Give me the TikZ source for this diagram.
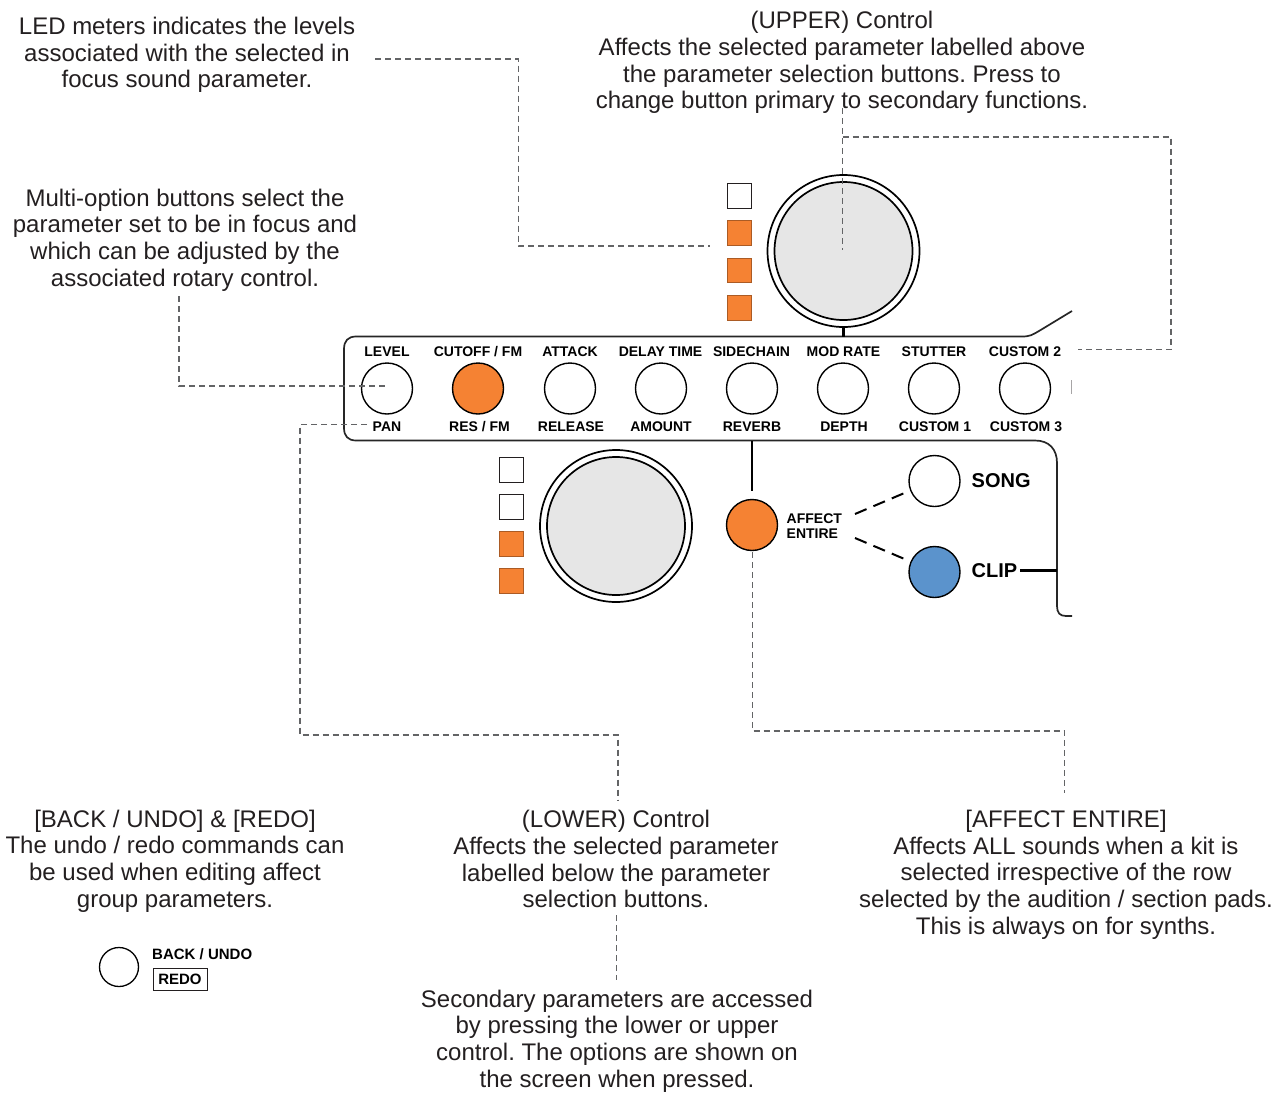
\documentclass[tikz,border=0pt]{standalone}
\usepackage{fontspec}
\setmainfont{Liberation Sans}
\definecolor{ledorange}{HTML}{F58233}
\definecolor{clipblue}{HTML}{5B93CC}
\definecolor{knobgrey}{HTML}{E6E6E6}
\definecolor{inkline}{HTML}{231F20}
\definecolor{leader}{HTML}{636466}
\begin{document}
\begin{tikzpicture}[x=1pt,y=-1pt,
  note/.style={align=center,inner sep=0pt,text=inkline,font=\frenchspacing\fontsize{24}{26.7}\selectfont},
  btnlabel/.style={inner sep=0pt,text=black,font=\fontsize{14}{15}\selectfont\bfseries},
  biglabel/.style={inner sep=0pt,text=black,font=\fontsize{20}{22}\selectfont\bfseries},
  btn/.style={circle,draw=black,line width=1.4pt,minimum size=51pt,inner sep=0pt,fill=white},
  led/.style={rectangle,draw=inkline,line width=1pt,minimum size=24.5pt,inner sep=0pt,fill=white},
  ledon/.style={led,draw=ledorange!70!black,fill=ledorange},
  knobouter/.style={circle,draw=black,line width=1.7pt,minimum size=152pt,inner sep=0pt,fill=white},
  knobinner/.style={circle,draw=black,line width=1.7pt,minimum size=138pt,inner sep=0pt,fill=knobgrey},
  leaderline/.style={draw=leader,line width=1.5pt,dash pattern=on 6pt off 4pt},
  panel/.style={draw=black!85,line width=1.7pt},
  stub/.style={draw=black,line width=2.4pt},
  branch/.style={draw=black,line width=2pt,dash pattern=on 12.5pt off 7.5pt}]
\useasboundingbox (0,0) rectangle (1275,1095);

% panel outline
\draw[panel] (1072,311) -- (1039,331) .. controls (1032,335) and (1030,336.5) .. (1022,336.5)
  -- (356,336.5) .. controls (348,336.5) and (344,341) .. (344,349)
  -- (344,428) .. controls (344,436) and (348,440.5) .. (356,440.5)
  -- (1035,440.5) .. controls (1049,440.5) and (1057,449) .. (1057,463)
  -- (1057,606) .. controls (1057,613) and (1060,616) .. (1066,616) -- (1072,616);
\draw[draw=inkline!40,line width=1pt] (1071.5,380) -- (1071.5,394);

% upper control
\node[knobouter] (upouter) at (843.5,251) {};
\node[knobinner] (upinner) at (843.5,251) {};
\node[led]   (u1) at (739.5,196) {};
\node[ledon] (u2) at (739.5,233) {};
\node[ledon] (u3) at (739.5,270.5) {};
\node[ledon] (u4) at (739.5,308) {};
\coordinate (uppanel) at (843.5,336.5);
\draw[stub] (upouter.south) -- (uppanel);

% lower control
\node[knobouter] (loouter) at (616,526) {};
\node[knobinner] (loinner) at (616,526) {};
\node[led]   (l1) at (511.5,470) {};
\node[led]   (l2) at (511.5,507) {};
\node[ledon] (l3) at (511.5,544) {};
\node[ledon] (l4) at (511.5,581) {};

% parameter buttons
\node[btn] (b1) at (387,388.5) {};
\node[btn,fill=ledorange] (b2) at (478,388.5) {};
\node[btn] (b3) at (570,388.5) {};
\node[btn] (b4) at (661,388.5) {};
\node[btn] (b5) at (752,388.5) {};
\node[btn] (b6) at (843,388.5) {};
\node[btn] (b7) at (934,388.5) {};
\node[btn] (b8) at (1025,388.5) {};

\node[btnlabel] (t1) at (387,352) {LEVEL};
\node[btnlabel] (t2) at (478,352) {CUTOFF / FM};
\node[btnlabel] (t3) at (570,352) {ATTACK};
\node[btnlabel] (t4) at (660.5,352) {DELAY TIME};
\node[btnlabel] (t5) at (751.5,352) {SIDECHAIN};
\node[btnlabel] (t6) at (843.5,352) {MOD RATE};
\node[btnlabel] (t7) at (934,352) {STUTTER};
\node[btnlabel] (t8) at (1025,352) {CUSTOM 2};
\node[btnlabel] (d1) at (387,427) {PAN};
\node[btnlabel] (d2) at (479.5,427) {RES / FM};
\node[btnlabel] (d3) at (571,427) {RELEASE};
\node[btnlabel] (d4) at (661,427) {AMOUNT};
\node[btnlabel] (d5) at (752,427) {REVERB};
\node[btnlabel] (d6) at (844,427) {DEPTH};
\node[btnlabel] (d7) at (935,427) {CUSTOM 1};
\node[btnlabel] (d8) at (1026,427) {CUSTOM 3};

% affect section
\node[btn,fill=ledorange] (affect) at (752,525) {};
\node[btn] (song) at (934.5,481) {};
\node[btn,fill=clipblue] (clip) at (934.5,572) {};
\node[btnlabel,anchor=west,align=left,font=\fontsize{14}{14.5}\selectfont\bfseries] (afflabel) at (786.5,526) {AFFECT\\ENTIRE};
\node[biglabel,anchor=west] (songlabel) at (971.5,481) {SONG};
\node[biglabel,anchor=west] (cliplabel) at (971.5,571) {CLIP};
\coordinate (affpanel) at (752,441);
\coordinate (clippanel) at (1057,570.5);
\coordinate (clipstub) at (1020,570.5);
\coordinate (brA) at (855,514);
\coordinate (brB) at (904.5,493);
\coordinate (brC) at (855,538);
\coordinate (brD) at (904.5,559);
\draw[stub] (affpanel) -- (752,491);
\draw[stub] (clipstub) -- (clippanel);
\draw[branch] (brA) -- (brB);
\draw[branch] (brC) -- (brD);

% back / undo
\node[circle,draw=black,line width=1.3pt,minimum size=39pt,inner sep=0pt] (back) at (119,967) {};
\node[btnlabel,anchor=west,font=\fontsize{15}{16}\selectfont\bfseries] (backlabel) at (152,954.5) {BACK / UNDO};
\node[btnlabel,draw=inkline,line width=1pt,minimum width=54pt,minimum height=22pt,font=\fontsize{15}{16}\selectfont\bfseries] (redo) at (180,979) {REDO};

% notes
\node[note] (nled) at (187,55) {LED meters indicates the levels\\associated with the selected in\\focus sound parameter.};
\node[note] (nupper) at (842,62.5) {(UPPER) Control\\Affects the selected parameter labelled above\\the parameter selection buttons. Press to\\change button primary to secondary functions.};
\node[note] (nmulti) at (185,240) {Multi-option buttons select the\\parameter set to be in focus and\\which can be adjusted by the\\associated rotary control.};
\node[note] (nback) at (175,861) {[BACK / UNDO] \& [REDO]\\The undo / redo commands can\\be used when editing affect\\group parameters.};
\node[note] (nlower) at (616,859.3) {(LOWER) Control\\Affects the selected parameter\\labelled below the parameter\\selection buttons.};
\node[note] (naffect) at (1066,874.5) {[AFFECT ENTIRE]\\Affects ALL sounds when a kit is\\selected irrespective of the row\\selected by the audition / section pads.\\This is always on for synths.};
\node[note] (nsec) at (617,1041) {Secondary parameters are accessed\\by pressing the lower or upper\\control. The options are shown on\\the screen when pressed.};

% leaders
\coordinate (ledS) at (375,59);
\coordinate (ledE) at (710,246);
\coordinate (upS) at (842.5,108);
\coordinate (upE) at (842.5,250);
\coordinate (upJ) at (842.5,137);
\coordinate (upF) at (1078,349.5);
\coordinate (mulS) at (179,296);
\coordinate (mulE) at (388,386);
\coordinate (loE) at (367,424.5);
\coordinate (loF) at (618,800);
\coordinate (affS) at (752.5,552);
\coordinate (affF) at (1064.5,793);
\coordinate (secS) at (616.5,915);
\coordinate (secE) at (616.5,980);
\path[leaderline] (ledS) -- (518.5,59) -- (518.5,246) -- (ledE);
\path[leaderline] (upS) -- (upE);
\path[leaderline] (upJ) -- (1171,137) -- (1171,349.5) -- (upF);
\path[leaderline] (mulS) -- (179,386) -- (mulE);
\path[leaderline] (loE) -- (300,424.5) -- (300,735) -- (618,735) -- (loF);
\path[leaderline] (affS) -- (752.5,731) -- (1064.5,731) -- (affF);
\path[leaderline] (secS) -- (secE);
\end{tikzpicture}
\end{document}
